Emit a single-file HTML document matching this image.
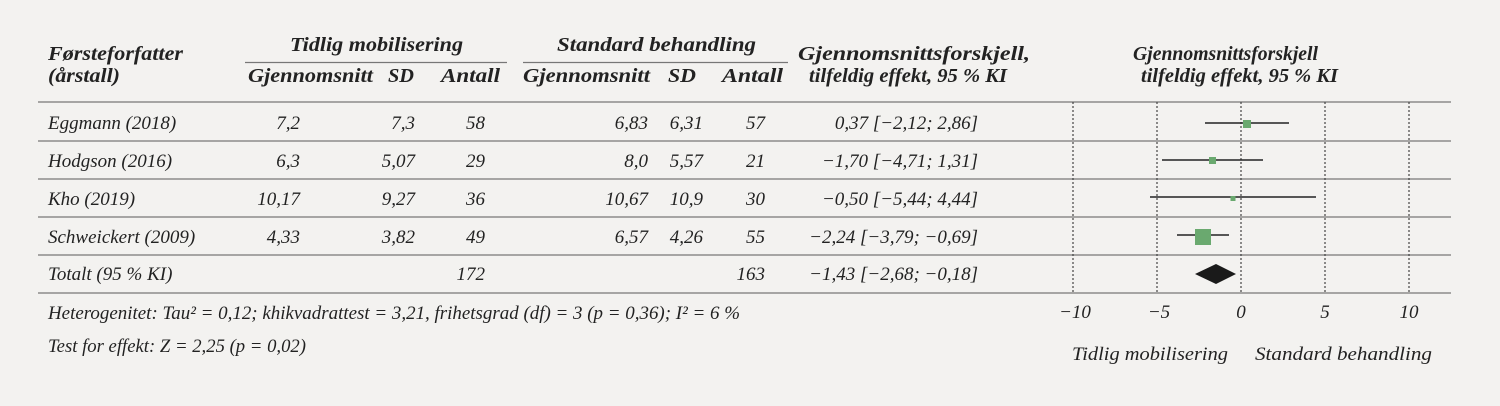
<!DOCTYPE html>
<html><head><meta charset="utf-8"><style>
body{margin:0;background:#f3f2f0;}
svg{display:block}
text{font-family:"Liberation Serif",serif;font-style:italic;font-size:19px;fill:#222}
.b{font-weight:bold;font-size:20px}
</style></head><body>
<svg width="1500" height="406" viewBox="0 0 1500 406">
<rect width="1500" height="406" fill="#f3f2f0"/>
<g>
<text class="b" x="48" y="60" textLength="135" lengthAdjust="spacingAndGlyphs">Førsteforfatter</text>
<text class="b" x="48" y="82" textLength="72" lengthAdjust="spacingAndGlyphs">(årstall)</text>
<text class="b" x="290" y="51" textLength="173" lengthAdjust="spacingAndGlyphs">Tidlig mobilisering</text>
<text class="b" x="557" y="51" textLength="199" lengthAdjust="spacingAndGlyphs">Standard behandling</text>
<text class="b" x="248" y="82" textLength="125" lengthAdjust="spacingAndGlyphs">Gjennomsnitt</text>
<text class="b" x="388" y="82" textLength="26" lengthAdjust="spacingAndGlyphs">SD</text>
<text class="b" x="441" y="82" textLength="59" lengthAdjust="spacingAndGlyphs">Antall</text>
<text class="b" x="523" y="82" textLength="127" lengthAdjust="spacingAndGlyphs">Gjennomsnitt</text>
<text class="b" x="668" y="82" textLength="28" lengthAdjust="spacingAndGlyphs">SD</text>
<text class="b" x="722" y="82" textLength="61" lengthAdjust="spacingAndGlyphs">Antall</text>
<text class="b" x="798" y="60" textLength="232" lengthAdjust="spacingAndGlyphs">Gjennomsnittsforskjell,</text>
<text class="b" x="809" y="82" textLength="198" lengthAdjust="spacingAndGlyphs">tilfeldig effekt, 95 % KI</text>
<text class="b" x="1133" y="60" textLength="185" lengthAdjust="spacingAndGlyphs">Gjennomsnittsforskjell</text>
<text class="b" x="1141" y="82" textLength="197" lengthAdjust="spacingAndGlyphs">tilfeldig effekt, 95 % KI</text>
</g>
<line x1="245" y1="62.5" x2="507" y2="62.5" stroke="#777" stroke-width="1.2"/>
<line x1="523" y1="62.5" x2="788" y2="62.5" stroke="#777" stroke-width="1.2"/>
<g stroke="#777" stroke-width="1.3">
<line x1="38" y1="102" x2="1451" y2="102"/>
<line x1="38" y1="141" x2="1451" y2="141"/>
<line x1="38" y1="179" x2="1451" y2="179"/>
<line x1="38" y1="217" x2="1451" y2="217"/>
<line x1="38" y1="255" x2="1451" y2="255"/>
<line x1="38" y1="293" x2="1451" y2="293"/>
</g>
<g stroke="#444" stroke-width="1.2" stroke-dasharray="2,2">
<line x1="1073" y1="102" x2="1073" y2="293"/>
<line x1="1157" y1="102" x2="1157" y2="293"/>
<line x1="1241" y1="102" x2="1241" y2="293"/>
<line x1="1325" y1="102" x2="1325" y2="293"/>
<line x1="1409" y1="102" x2="1409" y2="293"/>
</g>
<g>
<text x="48" y="129">Eggmann (2018)</text>
<text x="300" y="129" text-anchor="end">7,2</text><text x="415" y="129" text-anchor="end">7,3</text><text x="485" y="129" text-anchor="end">58</text>
<text x="648" y="129" text-anchor="end">6,83</text><text x="703" y="129" text-anchor="end">6,31</text><text x="765" y="129" text-anchor="end">57</text>
<text x="978" y="129" text-anchor="end">0,37 [−2,12; 2,86]</text>

<text x="48" y="167">Hodgson (2016)</text>
<text x="300" y="167" text-anchor="end">6,3</text><text x="415" y="167" text-anchor="end">5,07</text><text x="485" y="167" text-anchor="end">29</text>
<text x="648" y="167" text-anchor="end">8,0</text><text x="703" y="167" text-anchor="end">5,57</text><text x="765" y="167" text-anchor="end">21</text>
<text x="978" y="167" text-anchor="end">−1,70 [−4,71; 1,31]</text>

<text x="48" y="205">Kho (2019)</text>
<text x="300" y="205" text-anchor="end">10,17</text><text x="415" y="205" text-anchor="end">9,27</text><text x="485" y="205" text-anchor="end">36</text>
<text x="648" y="205" text-anchor="end">10,67</text><text x="703" y="205" text-anchor="end">10,9</text><text x="765" y="205" text-anchor="end">30</text>
<text x="978" y="205" text-anchor="end">−0,50 [−5,44; 4,44]</text>

<text x="48" y="243">Schweickert (2009)</text>
<text x="300" y="243" text-anchor="end">4,33</text><text x="415" y="243" text-anchor="end">3,82</text><text x="485" y="243" text-anchor="end">49</text>
<text x="648" y="243" text-anchor="end">6,57</text><text x="703" y="243" text-anchor="end">4,26</text><text x="765" y="243" text-anchor="end">55</text>
<text x="978" y="243" text-anchor="end">−2,24 [−3,79; −0,69]</text>

<text x="48" y="280">Totalt (95 % KI)</text>
<text x="485" y="280" text-anchor="end">172</text><text x="765" y="280" text-anchor="end">163</text>
<text x="978" y="280" text-anchor="end">−1,43 [−2,68; −0,18]</text>
</g>
<g stroke="#222" stroke-width="1.6">
<line x1="1205" y1="123" x2="1289" y2="123"/>
<line x1="1162" y1="160" x2="1263" y2="160"/>
<line x1="1150" y1="197" x2="1316" y2="197"/>
<line x1="1177" y1="235" x2="1229" y2="235"/>
</g>
<g fill="#6aa96f">
<rect x="1243" y="120" width="8" height="8"/>
<rect x="1209" y="157" width="7" height="7"/>
<rect x="1230.5" y="196" width="5" height="5"/>
<rect x="1195" y="229" width="16" height="16"/>
</g>
<polygon points="1195,274 1216,264 1236,274 1216,284" fill="#1a1a1a"/>
<g text-anchor="middle">
<text x="1075" y="318">−10</text>
<text x="1159" y="318">−5</text>
<text x="1241" y="318">0</text>
<text x="1325" y="318">5</text>
<text x="1409" y="318">10</text>
</g>
<text x="48" y="319" textLength="692" lengthAdjust="spacingAndGlyphs">Heterogenitet: Tau² = 0,12; khikvadrattest = 3,21, frihetsgrad (df) = 3 (p = 0,36); I² = 6 %</text>
<text x="48" y="352" textLength="258" lengthAdjust="spacingAndGlyphs">Test for effekt: Z = 2,25 (p = 0,02)</text>
<text x="1072" y="360" textLength="156" lengthAdjust="spacingAndGlyphs">Tidlig mobilisering</text>
<text x="1255" y="360" textLength="177" lengthAdjust="spacingAndGlyphs">Standard behandling</text>
</svg>
</body></html>
